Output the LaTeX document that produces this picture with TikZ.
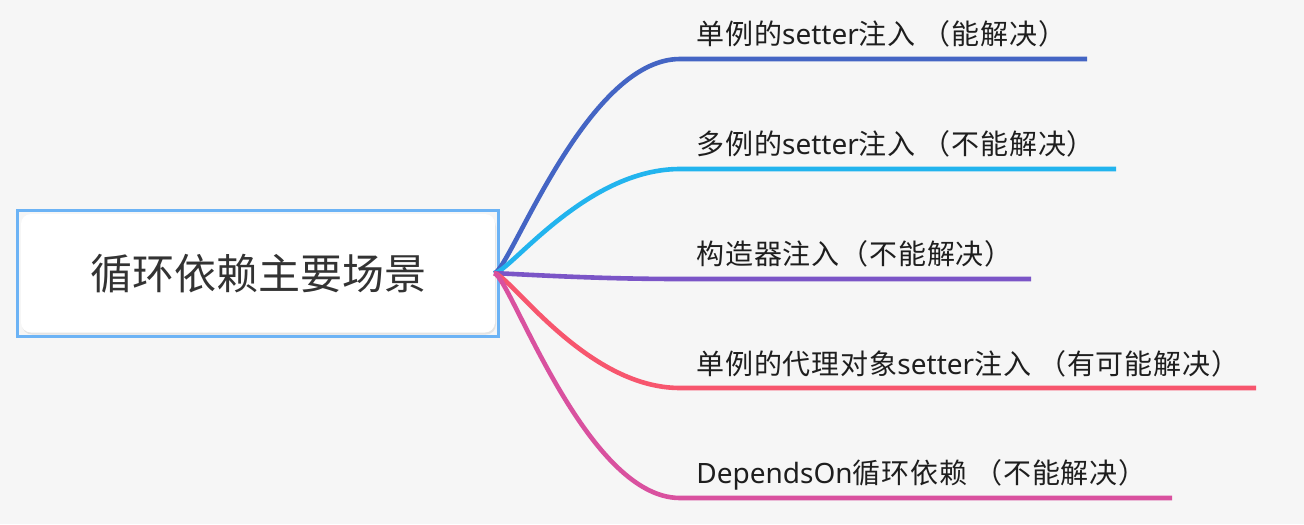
\documentclass[tikz,border=0pt]{standalone}
\usepackage{fontspec}
\newfontfamily\cjk{Noto Sans CJK SC}
\newfontfamily\cjkleaf[LetterSpace=3]{Noto Sans CJK SC}
\newfontfamily\latfont{Noto Sans}
\newcommand\lat[1]{{\latfont\fontsize{14pt}{16pt}\selectfont #1}}
\usetikzlibrary{backgrounds}
\definecolor{bg}{HTML}{F6F6F6}
\definecolor{boxblue}{HTML}{6CB3F5}
\definecolor{cA}{HTML}{4465C4}
\definecolor{cB}{HTML}{22B4EE}
\definecolor{cC}{HTML}{7B55C7}
\definecolor{cD}{HTML}{F7566E}
\definecolor{cE}{HTML}{D9519F}
\definecolor{txtroot}{HTML}{333333}
\definecolor{txtleaf}{HTML}{1E1E1E}
\definecolor{shadowgray}{HTML}{E4E4E4}
\begin{document}
\begin{tikzpicture}[x=0.5pt,y=-0.5pt,
  rootbox/.style={draw=boxblue, line width=1.5pt, minimum width=240.5pt, minimum height=62.75pt,
    inner sep=0pt, text=txtroot, font=\cjk\fontsize{21pt}{25pt}\selectfont},
  leaf/.style={anchor=base west, inner sep=0pt, text=txtleaf, font=\cjkleaf\fontsize{14pt}{16pt}\selectfont},
  branch/.style={line width=2.3pt, line cap=butt}]
\useasboundingbox (0,0) rectangle (1304,524);
\node[rootbox] (root) at (258,273.25) {循环依赖主要场景};
\begin{scope}[on background layer]
  \fill[bg] (0,0) rectangle (1304,524);
  \fill[shadowgray, rounded corners=5pt] ([shift={(6,8)}]root.north west) rectangle ([shift={(-4,-3)}]root.south east);
  \fill[white, rounded corners=5pt] ([shift={(5,5)}]root.north west) rectangle ([shift={(-5,-5)}]root.south east);
\end{scope}
% leaves
\node[leaf] (t1) at (696,45) {单例的\lat{setter}注入 （能解决）};
\node[leaf] (t2) at (696,154) {多例的\lat{setter}注入 （不能解决）};
\node[leaf] (t3) at (696,264) {构造器注入（不能解决）};
\node[leaf] (t4) at (696,374) {单例的代理对象\lat{setter}注入 （有可能解决）};
\node[leaf] (t5) at (696,483) {\lat{DependsOn}循环依赖 （不能解决）};
\coordinate (k1) at (680,59);  \coordinate (e1) at (1087,59);
\coordinate (k2) at (680,169); \coordinate (e2) at (1116,169);
\coordinate (k3) at (680,279); \coordinate (e3) at (1031,279);
\coordinate (k4) at (680,388); \coordinate (e4) at (1256,388);
\coordinate (k5) at (680,498); \coordinate (e5) at (1172,498);
\coordinate (o) at ([xshift=-3]root.east);
\draw[branch, cA] (o) .. controls +(15,0) and +(-95,0) .. (k1) -- (e1);
\draw[branch, cB] (o) .. controls +(15,0) and +(-95,0) .. (k2) -- (e2);
\draw[branch, cC] (o) .. controls +(15,0) and +(-95,0) .. (k3) -- (e3);
\draw[branch, cD] (o) .. controls +(15,0) and +(-95,0) .. (k4) -- (e4);
\draw[branch, cE] (o) .. controls +(15,0) and +(-95,0) .. (k5) -- (e5);
\end{tikzpicture}
\end{document}
